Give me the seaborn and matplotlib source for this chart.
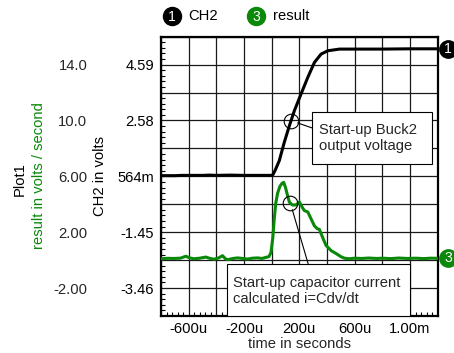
import numpy as np
import pandas as pd
import matplotlib
matplotlib.use("Agg")
import matplotlib.pyplot as plt
import matplotlib.transforms as mtransforms
from matplotlib.lines import Line2D
from matplotlib.patches import Rectangle
import seaborn as sns

# ---------------- data ----------------
# time in microseconds
ch2_time_us = [-800, -700, -650, -600, -500, -450, -400, -300, -200, -100, 0, 7, 25,
               55, 91, 128, 164, 212, 261, 309, 357, 406, 490, 600, 800, 1000, 1200]
ch2_volts = [0.59, 0.59, 0.60, 0.60, 0.60, 0.61, 0.60, 0.61, 0.60, 0.60, 0.60, 0.61, 0.78,
             1.13, 1.79, 2.39, 2.93, 3.53, 4.13, 4.67, 4.97, 5.09, 5.15, 5.15, 5.15, 5.16, 5.16]

res_time_us = [-800, -750, -706, -660, -621, -590, -561, -520, -476, -445, -416, -385,
               -355, -335, -319, -280, -246, -210, -174, -140, -101, -70, -41, -20, -5,
               8, 19, 30, 43, 60, 75, 87, 100, 115, 128, 150, 176, 200, 220, 236, 261,
               285, 309, 330, 345, 365, 393, 430, 466, 500, 526, 560, 600, 650, 700,
               760, 800, 860, 920, 980, 1040, 1100, 1150, 1200]
res_values = [0.10, 0.13, 0.12, 0.14, 0.28, 0.15, 0.10, 0.14, 0.22, 0.12, 0.07, 0.15,
              0.32, 0.10, 0.03, 0.12, 0.16, 0.12, 0.08, 0.14, 0.16, 0.12, 0.20, 0.25, 0.55,
              1.6, 3.0, 4.1, 4.8, 5.3, 5.5, 5.57, 5.2, 4.6, 4.15, 3.95, 3.95, 4.17, 3.8, 3.55, 3.45,
              2.95, 2.45, 2.25, 2.2, 1.7, 1.05, 0.68, 0.47, 0.25, 0.14, 0.10, 0.14, 0.12, 0.15,
              0.12, 0.14, 0.11, 0.15, 0.12, 0.14, 0.11, 0.14, 0.13]

x_tick_us = [-600, -200, 200, 600, 1000]
x_tick_labels = ["-600u", "-200u", "200u", "600u", "1.00m"]
ch2_ticks = [4.59, 2.58, 0.564, -1.45, -3.46]
ch2_tick_labels = ["4.59", "2.58", "564m", "-1.45", "-3.46"]
res_ticks = [14.0, 10.0, 6.0, 2.0, -2.0]
res_tick_labels = ["14.0", "10.0", "6.00", "2.00", "-2.00"]

note_ch2_us = 140
note_res_us = 135

# ---------------- style ----------------
sns.set_theme(style="white")
plt.rcParams["font.family"] = ["Liberation Sans", "DejaVu Sans"]
FS = 10.6
GREEN = "#0a880a"
W, H = 454, 353

fig = plt.figure(figsize=(W / 100, H / 100), dpi=100)
L, R, T, B = 161, 437.7, 36.7, 316
ax = fig.add_axes([L / W, 1 - B / H, (R - L) / W, (B - T) / H])
ax2 = ax.twinx()

df_ch2 = pd.DataFrame({"t": np.array(ch2_time_us) * 1e-6, "v": ch2_volts})
df_res = pd.DataFrame({"t": np.array(res_time_us) * 1e-6, "v": res_values})

sns.lineplot(data=df_ch2, x="t", y="v", ax=ax, color="black", lw=2.2, estimator=None, zorder=3)
sns.lineplot(data=df_res, x="t", y="v", ax=ax2, color=GREEN, lw=2.2, estimator=None, zorder=3)

# axis limits: 10 divisions
xmin, xmax = -800e-6, 1200e-6
ax.set_xlim(xmin, xmax)
div = (ch2_ticks[0] - ch2_ticks[-1]) / 8
ax.set_ylim(ch2_ticks[-1] - div, ch2_ticks[0] + div)
rdiv = (res_ticks[0] - res_ticks[-1]) / 8
ax2.set_ylim(res_ticks[-1] - rdiv, res_ticks[0] + rdiv)

# grid ticks (all divisions), labels only on some
xgrid = np.linspace(xmin, xmax, 11)
xlab = {round(v * 1e-6, 9): s for v, s in zip(x_tick_us, x_tick_labels)}
ax.set_xticks(xgrid, [xlab.get(round(v, 9), "") for v in xgrid])
ygrid = ch2_ticks[-1] - div + div * np.arange(11)
ylabs = [""] * 11
for i, s in zip([9, 7, 5, 3, 1], ch2_tick_labels):
    ylabs[i] = s
ax.set_yticks(ygrid, ylabs)
ax.set_xticks(np.linspace(xmin, xmax, 51), minor=True)
ax.set_yticks(ygrid[0] + div / 5 * np.arange(51), minor=True)
ax.grid(True, which="major", color="#1a1a1a", lw=0.9)
ax.set_axisbelow(True)
ax.tick_params(axis="both", which="major", length=0, labelsize=FS, colors="black")
ax.tick_params(axis="x", which="major", pad=4)
ax.tick_params(axis="y", which="major", pad=5)
ax.tick_params(axis="both", which="minor", direction="in", length=3, width=0.8,
               color="black", left=True, bottom=True, right=False, top=False)

ax2.yaxis.set_ticks_position("left")
ax2.set_yticks(res_ticks, res_tick_labels)
ax2.tick_params(axis="y", which="both", length=0, labelsize=FS, pad=53,
                left=True, right=False, labelleft=True, labelright=False)
ax2.yaxis.set_minor_locator(matplotlib.ticker.NullLocator())

ax.set_xlabel("time in seconds", fontsize=FS, labelpad=1)
ax.set_ylabel("")
ax2.set_ylabel("")

for a in (ax, ax2):
    for s in a.spines.values():
        s.set_visible(False)
for s in ax.spines.values():
    s.set_visible(True)
    s.set_color("black")
    s.set_linewidth(1.6)
    s.set_zorder(4)

# y-axis titles
fig.text(20 / W, 1 - 179 / H, "Plot1", rotation=90, ha="center", va="center", fontsize=FS, color="black")
fig.text(39 / W, 1 - 176 / H, "result in volts / second", rotation=90, ha="center", va="center",
         fontsize=FS, color=GREEN)
fig.text(100 / W, 1 - 176 / H, "CH2 in volts", rotation=90, ha="center", va="center", fontsize=FS,
         color="black")

# header legend
for cx, col, num, name in [(172, "black", "1", "CH2"), (256, GREEN, "3", "result")]:
    fig.add_artist(Line2D([cx / W], [1 - 16 / H], marker="o", ms=13, color=col,
                          transform=fig.transFigure, ls="none"))
    fig.text(cx / W, 1 - 17 / H, num, color="white", ha="center", va="center", fontsize=FS - 0.5)
    fig.text((cx + 16.5) / W, 1 - 16 / H, name, color="black", ha="left", va="center", fontsize=FS)

# right-side series markers
for a, series, col, num in [(ax, ch2_volts, "black", "1"), (ax2, res_values, GREEN, "3")]:
    tr = mtransforms.offset_copy(mtransforms.blended_transform_factory(a.transAxes, a.transData),
                                 fig=fig, x=10.5, y=0, units="dots")
    a.plot([1.0], [series[-1]], marker="o", ms=12.5, color=col, transform=tr, clip_on=False,
           ls="none", zorder=6)
    a.text(1.0, series[-1], num, transform=tr, color="white", ha="center", va="center",
           fontsize=FS - 0.5, zorder=7, clip_on=False)

# annotations
t1 = note_ch2_us * 1e-6
y1 = np.interp(t1, df_ch2["t"], df_ch2["v"])
t2 = note_res_us * 1e-6
y2 = np.interp(t2, df_res["t"], df_res["v"])
ax.plot([t1], [y1], marker="o", ms=10.5, mfc="none", mec="black", mew=0.8, ls="none", zorder=5)
ax2.plot([t2], [y2], marker="o", ms=10.5, mfc="none", mec="black", mew=0.8, ls="none", zorder=5)

def ax_frac_x(px):
    return (px - L) / (R - L)

def ax_frac_y(py):
    return (B - py) / (B - T)

# box 1
bx0, bx1, by0, by1 = ax_frac_x(312.3), ax_frac_x(431.7), ax_frac_y(164.3), ax_frac_y(111.7)
ax2.add_patch(Rectangle((bx0, by0), bx1 - bx0, by1 - by0, transform=ax2.transAxes,
                        fc="white", ec="black", lw=0.8, zorder=8))
ax2.text(ax_frac_x(319), ax_frac_y(138.3), "Start-up Buck2\noutput voltage", transform=ax2.transAxes,
         ha="left", va="center", fontsize=FS, zorder=9, linespacing=1.15)
ax2.annotate("", xy=(t1, y1), xycoords=ax.transData, xytext=(bx0, ax_frac_y(128)),
             textcoords=ax2.transAxes,
             arrowprops=dict(arrowstyle="-", color="black", lw=0.8, shrinkA=0, shrinkB=5), zorder=8)

# box 2
cx0, cx1, cy0, cy1 = ax_frac_x(226.7), ax_frac_x(410), 0.0, ax_frac_y(264.3)
ax2.add_patch(Rectangle((cx0, cy0), cx1 - cx0, cy1 - cy0, transform=ax2.transAxes,
                        fc="white", ec="black", lw=0.8, zorder=8))
ax2.text(ax_frac_x(232.7), ax_frac_y(290.8), "Start-up capacitor current\ncalculated i=Cdv/dt",
         transform=ax2.transAxes, ha="left", va="center", fontsize=FS, zorder=9, linespacing=1.15)
ax2.annotate("", xy=(t2, y2), xycoords=ax2.transData, xytext=(ax_frac_x(308.3), cy1),
             textcoords=ax2.transAxes,
             arrowprops=dict(arrowstyle="-", color="black", lw=0.8, shrinkA=0, shrinkB=5), zorder=8)

fig.savefig("out.png", dpi=100)
